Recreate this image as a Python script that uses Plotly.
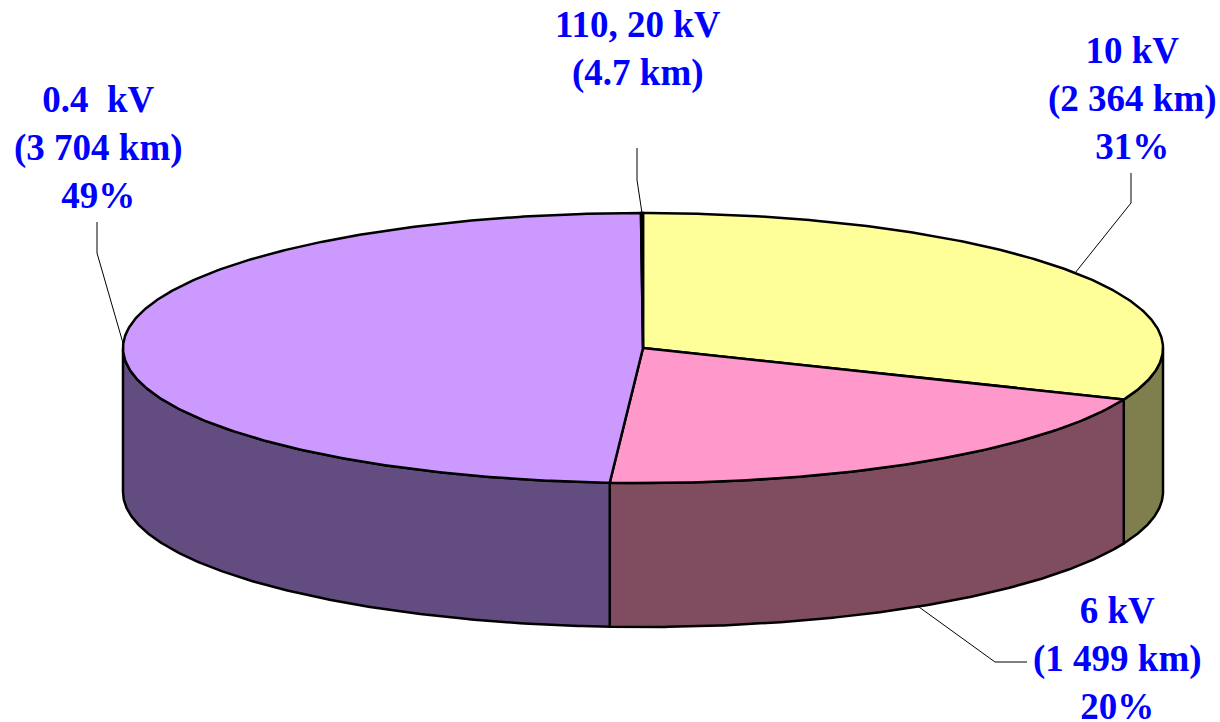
import numpy as np
import plotly.graph_objects as go

# ---- data (slices clockwise from 12 o'clock) ----
labels = ["10 kV", "6 kV", "0.4\u00a0 kV", "110, 20 kV"]
lengths_km = [2364, 1499, 3704, 4.7]
show_pct = [True, True, True, False]

# ---- styles ----
top_colors = ["#FFFF99", "#FF99CC", "#CC99FF", "#CCFFFF"]
side_colors = ["#7F7F4D", "#804D60", "#634D80", "#668080"]
CX, CY, RX, RY, DEPTH = 643, 348, 520, 135, 144
label_pos = [(1132, 98), (1117, 658), (98, 147), (638, 49)]
elbows = [[(1131, 203), (1131, 173)],
          [(995, 662), (1027, 662)],
          [(97, 253), (97, 222)],
          [(637, 180), (637, 148)]]
anchor_on_bottom = [False, True, False, False]


def pt(phi, dz=0.0):
    r = np.radians(phi)
    return CX + RX * np.sin(r), CY - RY * np.cos(r) + dz


def fmt_km(v):
    if float(v).is_integer():
        return f"{int(v):,}".replace(",", " ")
    return f"{v}"


total = sum(lengths_km)
fr = [v / total for v in lengths_km]
starts = np.concatenate([[0], np.cumsum(fr)[:-1]]) * 360
ends = np.cumsum(fr) * 360

fig = go.Figure()

# side walls (front half: 90..270 degrees)
for i in range(len(labels)):
    a, b = max(starts[i], 90), min(ends[i], 270)
    if b <= a:
        continue
    ph = np.linspace(a, b, 200)
    xt, yt = pt(ph)
    xb, yb = pt(ph[::-1], DEPTH)
    xs = np.concatenate([xt, xb, xt[:1]])
    ys = np.concatenate([yt, yb, yt[:1]])
    fig.add_trace(go.Scatter(x=xs, y=ys, mode="lines", fill="toself",
                             fillcolor=side_colors[i],
                             line=dict(color="black", width=2.5),
                             hoverinfo="skip"))

# top wedges
for i in range(len(labels)):
    n = max(3, int((ends[i] - starts[i]) * 2))
    ph = np.linspace(starts[i], ends[i], n)
    xa, ya = pt(ph)
    xs = np.concatenate([[CX], xa, [CX]])
    ys = np.concatenate([[CY], ya, [CY]])
    fig.add_trace(go.Scatter(x=xs, y=ys, mode="lines", fill="toself",
                             fillcolor=top_colors[i],
                             line=dict(color="black", width=2.5),
                             hoverinfo="skip"))

# labels and leader lines
for i in range(len(labels)):
    mid = (starts[i] + ends[i]) / 2
    ax, ay = pt(mid, DEPTH if anchor_on_bottom[i] else 0)
    lx = [ax] + [p[0] for p in elbows[i]]
    ly = [ay] + [p[1] for p in elbows[i]]
    fig.add_trace(go.Scatter(x=lx, y=ly, mode="lines",
                             line=dict(color="black", width=1),
                             hoverinfo="skip"))
    txt = f"{labels[i]}<br>({fmt_km(lengths_km[i])} km)"
    if show_pct[i]:
        txt += f"<br>{round(fr[i] * 100)}%"
    fig.add_annotation(x=label_pos[i][0], y=label_pos[i][1], text=txt,
                       showarrow=False, xanchor="center", yanchor="middle",
                       align="center",
                       font=dict(family="Liberation Serif", size=37,
                                 color="#0000FF", weight="bold"))

fig.update_layout(
    width=1220, height=722, margin=dict(l=0, r=0, t=0, b=0),
    showlegend=False, paper_bgcolor="white", plot_bgcolor="white",
    xaxis=dict(visible=False, range=[0, 1220], fixedrange=True),
    yaxis=dict(visible=False, range=[722, 0], fixedrange=True),
)

fig.write_html("out.html", config={"displayModeBar": False},
               post_script="document.body.style.margin='0';")
